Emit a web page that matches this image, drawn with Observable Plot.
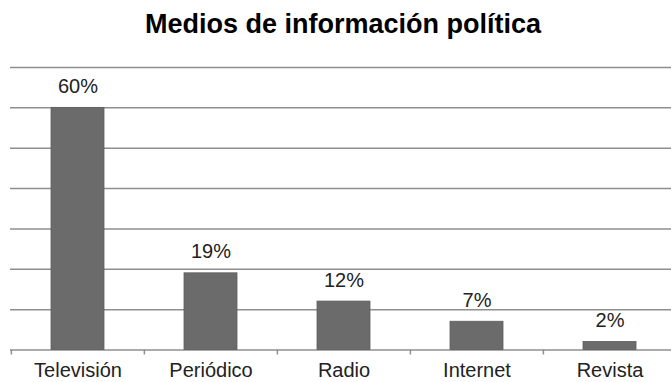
<!DOCTYPE html>
<html>
<head>
<meta charset="utf-8">
<script src="https://cdn.jsdelivr.net/npm/d3@7"></script>
<script src="https://cdn.jsdelivr.net/npm/@observablehq/plot@0.6"></script>
<style>
  html, body { margin: 0; padding: 0; background: #fff; }
  #title {
    font-family: "Liberation Sans", Arial, sans-serif;
    font-weight: bold; font-size: 27px; line-height: 27px; height: 27px;
    padding: 10.5px 0 10.5px 15px; text-align: center; color: #000;
  }
  svg { display: block; }
</style>
</head>
<body>
<div id="title">Medios de información política</div>
<div id="chart"></div>
<script>
const categories = ["Televisión", "Periódico", "Radio", "Internet", "Revista"];
const values = [60, 19, 12, 7, 2];
const labels = ["60%", "19%", "12%", "7%", "2%"];
const gridTicks = [0, 10, 20, 30, 40, 50, 60, 70];

const data = categories.map((c, i) => ({cat: c, value: values[i], label: labels[i]}));

const xOpts = {type: "band", domain: categories, range: [10, 676.2], paddingInner: 0.604, paddingOuter: 0.302, align: 0.5};
const step = Plot.scale({x: xOpts}).step;

const plot = Plot.plot({
  width: 671,
  height: 334,
  marginTop: 19,
  marginBottom: 32.5,
  marginLeft: 10,
  marginRight: 0,
  style: {fontFamily: "Liberation Sans, Arial, sans-serif", fontSize: "20px", color: "#222", background: "#fff"},
  x: {...xOpts, label: null},
  y: {domain: [0, 70], label: null},
  marks: [
    Plot.ruleY(gridTicks, {stroke: "#8f8f8f", strokeWidth: 1.5}),
    Plot.barY(data, {x: "cat", y: "value", fill: "#6b6b6b", stroke: "#5e5e5e", strokeWidth: 0.8}),
    Plot.ruleX(categories, {x: d => d, dx: -step / 2, y1: 0, y2: 0, insetBottom: -5, stroke: "#8f8f8f", strokeWidth: 1.5}),
    Plot.text(data, {x: "cat", y: "value", text: "label", lineAnchor: "bottom", dy: -15, fontSize: 20, fill: "#222"}),
    Plot.axisX({tickSize: 0, tickPadding: 13, fontSize: 20, fill: "#222"}),
    Plot.axisY({ticks: []})
  ]
});
document.getElementById("chart").append(plot);
</script>
</body>
</html>
